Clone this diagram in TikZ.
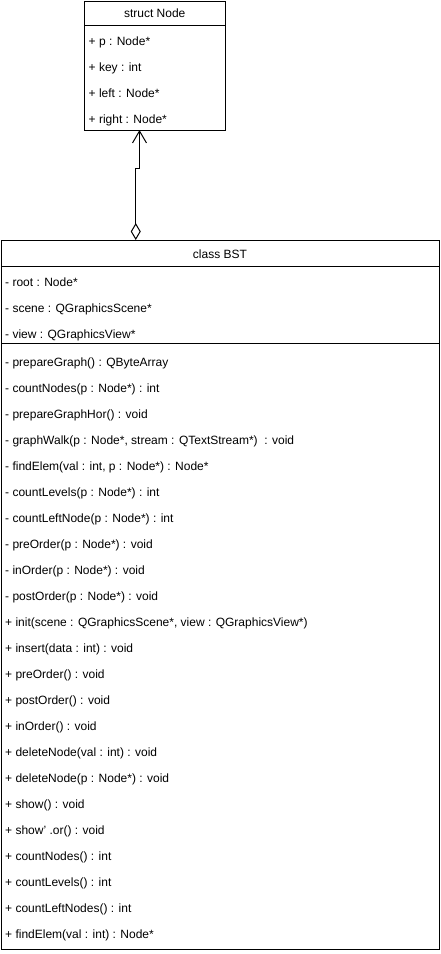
\documentclass[tikz,border=0pt]{standalone}
\usepackage{fontspec}
\setmainfont{Liberation Sans}
\usetikzlibrary{arrows.meta}
\begin{document}
\begin{tikzpicture}[x=1pt,y=-1pt,
  umlbox/.style={draw, line width=1pt, inner sep=0pt, outer sep=0pt, anchor=north west},
  rule/.style={line width=1pt},
  member/.style={anchor=base west, inner sep=0pt, font=\fontsize{12}{14}\selectfont},
  boxtitle/.style={anchor=base, inner sep=0pt, font=\fontsize{12}{14}\selectfont},
  aggregation/.style={line width=1pt,
    {Diamond[open,length=17pt,width=10pt]}-{Straight Barb[length=12pt,width=14pt]}}]
\useasboundingbox (0,0) rectangle (441,954);

% struct Node
\node[umlbox, minimum width=140.5pt, minimum height=129pt] (snode) at (84.5,1) {};
\draw[rule] ([yshift=-24pt]snode.north west) -- ([yshift=-24pt]snode.north east);
\node[boxtitle] (stitle) at (154.75,17) {struct Node};
\node[member] (sp) at (88.5,45) {+ p : Node*};
\node[member] (skey) at (88.5,71) {+ key : int};
\node[member] (sleft) at (88.5,97) {+ left : Node*};
\node[member] (sright) at (88.5,123) {+ right : Node*};

% class BST
\node[umlbox, minimum width=438.5pt, minimum height=709pt] (bst) at (1,240) {};
\draw[rule] ([yshift=-26pt]bst.north west) -- ([yshift=-26pt]bst.north east);
\draw[rule] ([yshift=-103pt]bst.north west) -- ([yshift=-103pt]bst.north east);
\node[boxtitle] (btitle) at (220,258) {class BST};
\node[member] (a1) at (5,286.5) {- root : Node*};
\node[member] (a2) at (5,312.5) {- scene : QGraphicsScene*};
\node[member] (a3) at (5,338.5) {- view : QGraphicsView*};

\foreach \txt [count=\i from 0] in {
  {- prepareGraph() : QByteArray},
  {- countNodes(p : Node*) : int},
  {- prepareGraphHor() : void},
  {- graphWalk(p : Node*, stream : QTextStream*)\ \ : void},
  {- findElem(val : int, p : Node*) : Node*},
  {- countLevels(p : Node*) : int},
  {- countLeftNode(p : Node*) : int},
  {- preOrder(p : Node*) : void},
  {- inOrder(p : Node*) : void},
  {- postOrder(p : Node*) : void},
  {+ init(scene : QGraphicsScene*, view : QGraphicsView*)},
  {+ insert(data : int) : void},
  {+ preOrder() : void},
  {+ postOrder() : void},
  {+ inOrder() : void},
  {+ deleteNode(val : int) : void},
  {+ deleteNode(p : Node*) : void},
  {+ show() : void},
  {+ show' .or() : void},
  {+ countNodes() : int},
  {+ countLevels() : int},
  {+ countLeftNodes() : int},
  {+ findElem(val : int) : Node*}}
  \node[member] (m\i) at (5,366.5+26*\i) {\txt};

% aggregation: BST holds Node
\draw[aggregation] ([xshift=-84.5pt]bst.north) -- ++(0,-72) -| ([xshift=-15.25pt]snode.south);
\end{tikzpicture}
\end{document}
